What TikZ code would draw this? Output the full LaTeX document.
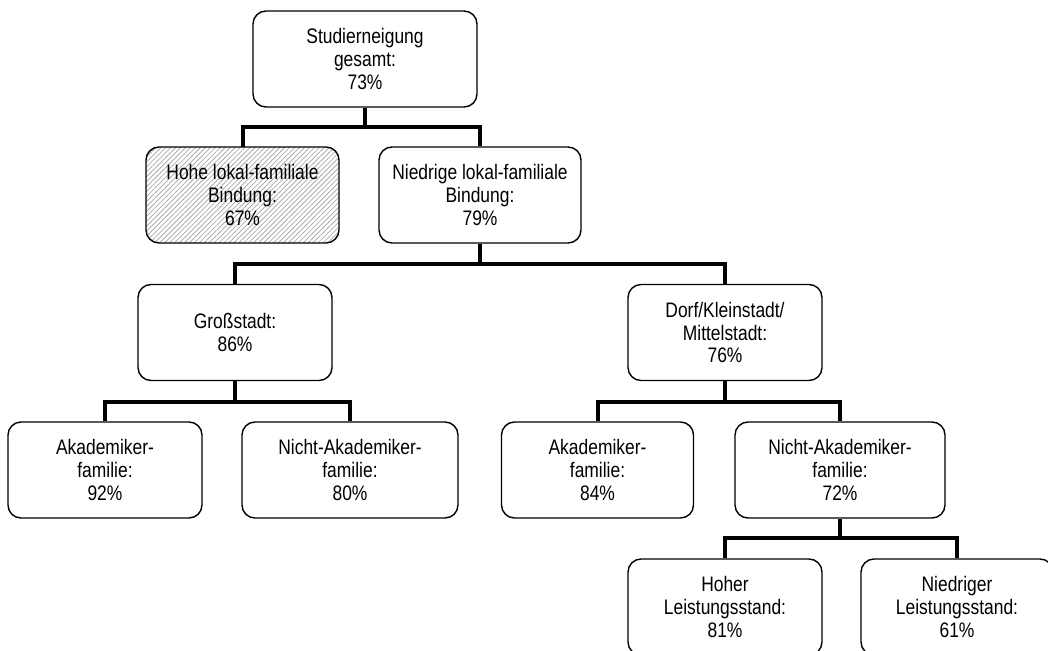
\documentclass[tikz,border=0pt]{standalone}
\usepackage{fontspec}
\setmainfont{Liberation Sans}[FakeStretch=0.83]
\usetikzlibrary{patterns.meta}
\begin{document}
\begin{tikzpicture}[x=1pt,y=-1pt,
  box/.style={draw, line width=1.4pt, rounded corners=13pt, minimum height=96pt,
    inner sep=0pt, align=center, font=\fontsize{21pt}{22.7pt}\selectfont},
  hatched/.style={pattern={Lines[angle=45,distance=3.5pt,line width=0.8pt]}, pattern color=gray!65},
  conn/.style={line width=4pt}]
\useasboundingbox (0,0) rectangle (1048,650);
\clip (0,0) rectangle (1048,650);

% levels of the horizontal branch bars
\coordinate (b1) at (0,127);
\coordinate (b2) at (0,264);
\coordinate (b3) at (0,402);
\coordinate (b4) at (0,538);

% boxes
\node[box, minimum width=224pt] (all) at (365,59) {Studierneigung\\gesamt:\\73\%};
\node[box, hatched, minimum width=193pt] (hoch) at (242.5,195) {Hohe lokal-familiale\\Bindung:\\67\%};
\node[box, minimum width=202pt] (nied) at (480,195) {Niedrige lokal-familiale\\Bindung:\\79\%};
\node[box, minimum width=194pt] (gross) at (235,332.5) {Großstadt:\\86\%};
\node[box, minimum width=194pt] (dorf) at (725,332.5) {Dorf/Kleinstadt/\\Mittelstadt:\\76\%};
\node[box, minimum width=194pt] (akadG) at (105,470) {Akademiker-\\familie:\\92\%};
\node[box, minimum width=216pt] (nichtG) at (350,470) {Nicht-Akademiker-\\familie:\\80\%};
\node[box, minimum width=192pt] (akadD) at (597.5,470) {Akademiker-\\familie:\\84\%};
\node[box, minimum width=210pt] (nichtD) at (840,470) {Nicht-Akademiker-\\familie:\\72\%};
\node[box, minimum width=194pt] (hoher) at (725,607) {Hoher\\Leistungsstand:\\81\%};
\node[box, minimum width=192pt] (niedrig) at (957,607) {Niedriger\\Leistungsstand:\\61\%};

% tree connectors
\draw[conn] (all.south) -- (all.south |- b1);
\draw[conn] (hoch.north) -- (hoch.north |- b1) -| (nied.north);

\draw[conn] (nied.south) -- (nied.south |- b2);
\draw[conn] (gross.north) -- (gross.north |- b2) -| (dorf.north);

\draw[conn] (gross.south) -- (gross.south |- b3);
\draw[conn] (akadG.north) -- (akadG.north |- b3) -| (nichtG.north);

\draw[conn] (dorf.south) -- (dorf.south |- b3);
\draw[conn] (akadD.north) -- (akadD.north |- b3) -| (nichtD.north);

\draw[conn] (nichtD.south) -- (nichtD.south |- b4);
\draw[conn] (hoher.north) -- (hoher.north |- b4) -| (niedrig.north);
\end{tikzpicture}
\end{document}
